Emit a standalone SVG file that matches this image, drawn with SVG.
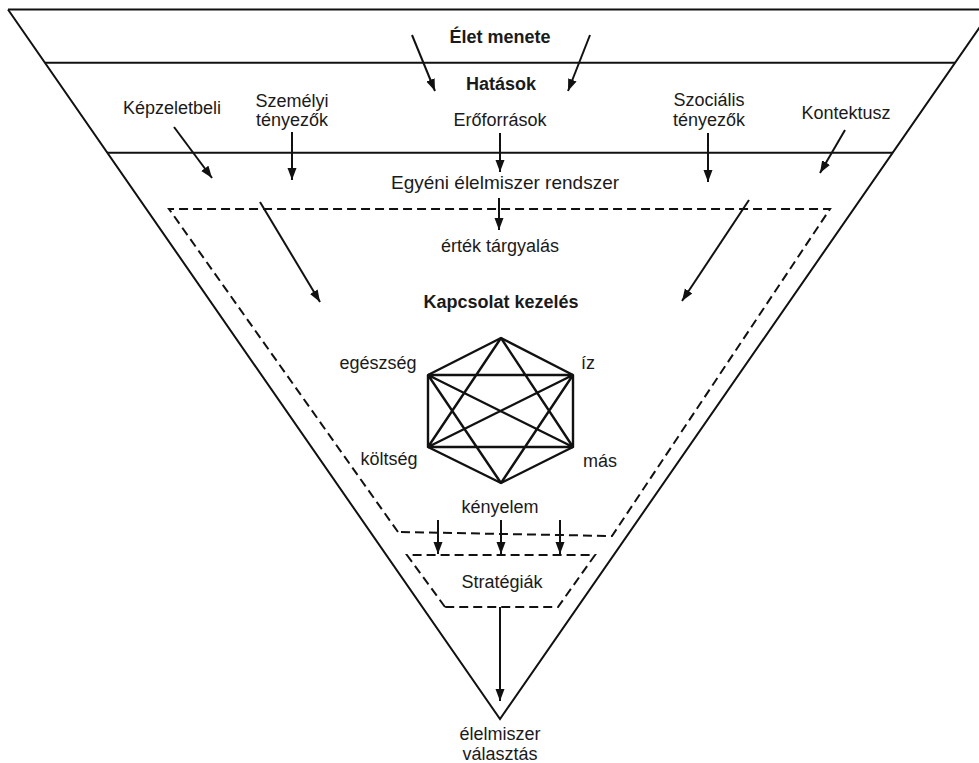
<svg xmlns="http://www.w3.org/2000/svg" width="979" height="763" viewBox="0 0 979 763">
  <style>
    .frame { fill: none; stroke: #111; stroke-width: 2; }
    .dash { fill: none; stroke: #111; stroke-width: 2; stroke-dasharray: 9 5; }
    .arrow { fill: none; stroke: #111; stroke-width: 2; marker-end: url(#head); }
    .hex { fill: none; stroke: #111; stroke-width: 2.4; stroke-linejoin: round; }
    text { font-family: "Liberation Sans", Arial, sans-serif; font-size: 18px; fill: #1a1a1a; text-anchor: middle; }
    .b { font-weight: bold; }
    .lg { font-size: 19px; }
  </style>
  <defs>
    <marker id="head" markerUnits="userSpaceOnUse" markerWidth="14" markerHeight="10" refX="12" refY="4.5" orient="auto">
      <path d="M0,0 L12,4.5 L0,9 z" fill="#111"/>
    </marker>
  </defs>
  <rect width="979" height="763" fill="#fff"/>

  <!-- funnel outline and bands -->
  <g id="funnel">
    <path class="frame" d="M8,9.5 L500,719 L992,9.5"/>
    <line class="frame" x1="8" y1="9.5" x2="979" y2="9.5"/>
    <line class="frame" x1="45" y1="62.7" x2="955" y2="62.7"/>
    <line class="frame" x1="107" y1="152.7" x2="893" y2="152.7"/>
  </g>

  <!-- dashed zones -->
  <g id="value-zone">
    <path class="dash" d="M398,532 L169,209 L830,209 L612,536 Z"/>
  </g>
  <g id="strategy-zone">
    <path class="dash" d="M445,607 L407,555 L595,555 L558,607 Z"/>
  </g>

  <!-- value graph -->
  <g id="value-graph">
    <path class="hex" d="M501,338 L573,375 L573,447 L501,483 L428,447 L428,375 Z"/>
    <path class="hex" d="M428,375 L573,375 M428,447 L573,447 M428,375 L573,447 M573,375 L428,447 M501,338 L428,447 M501,338 L573,447 M501,483 L428,375 M501,483 L573,375"/>
  </g>

  <!-- connectors -->
  <g id="connectors">
    <line class="arrow" x1="412" y1="35" x2="435" y2="91"/>
    <line class="arrow" x1="590" y1="35" x2="568" y2="91"/>
    <line class="arrow" x1="174" y1="127" x2="212" y2="178"/>
    <line class="arrow" x1="292" y1="132" x2="292" y2="180"/>
    <line class="arrow" x1="500" y1="133" x2="500" y2="172"/>
    <line class="arrow" x1="708" y1="133" x2="708" y2="182"/>
    <line class="arrow" x1="845" y1="130" x2="820" y2="173"/>
    <line class="arrow" x1="499" y1="198" x2="499" y2="230"/>
    <line class="arrow" x1="260" y1="202" x2="320" y2="302"/>
    <line class="arrow" x1="749" y1="200" x2="682" y2="301"/>
    <line class="arrow" x1="438" y1="520" x2="438" y2="554"/>
    <line class="arrow" x1="501" y1="520" x2="501" y2="554"/>
    <line class="arrow" x1="560" y1="520" x2="560" y2="554"/>
    <line class="arrow" x1="500" y1="607" x2="500" y2="701"/>
  </g>

  <!-- labels -->
  <g id="life-course"><text class="b" x="500" y="43">Élet menete</text></g>
  <g id="influences"><text class="b" x="501" y="90">Hatások</text></g>
  <g id="ideals"><text x="172" y="114">Képzeletbeli</text></g>
  <g id="personal"><text x="292" y="107">Személyi</text><text x="292" y="126">tényezők</text></g>
  <g id="resources"><text x="500" y="126">Erőforrások</text></g>
  <g id="social"><text x="709" y="106">Szociális</text><text x="709" y="126">tényezők</text></g>
  <g id="context"><text x="846" y="119">Kontektusz</text></g>
  <g id="food-system"><text class="lg" x="505" y="189">Egyéni élelmiszer rendszer</text></g>
  <g id="negotiation"><text x="500" y="252">érték tárgyalás</text></g>
  <g id="management"><text class="b" x="501" y="308">Kapcsolat kezelés</text></g>
  <g id="health"><text x="378" y="369">egészség</text></g>
  <g id="taste"><text x="588" y="369">íz</text></g>
  <g id="cost"><text x="389" y="465">költség</text></g>
  <g id="other"><text x="600" y="467">más</text></g>
  <g id="convenience"><text x="500" y="513">kényelem</text></g>
  <g id="strategies"><text x="502" y="588">Stratégiák</text></g>
  <g id="food-choice"><text x="500" y="740">élelmiszer</text><text x="500" y="760">választás</text></g>
</svg>
